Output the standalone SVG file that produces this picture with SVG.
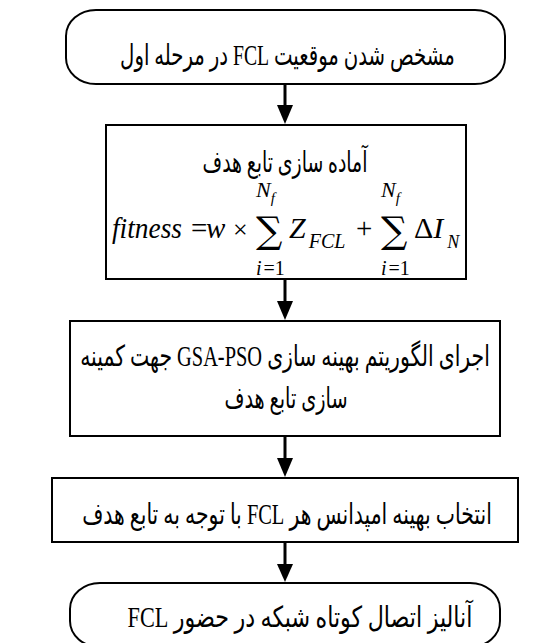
<svg xmlns="http://www.w3.org/2000/svg" width="553" height="643" viewBox="0 0 553 643">
<style>
.box{fill:#fff;stroke:#000;stroke-width:2}
.t{font-family:"Liberation Serif","DejaVu Sans",serif;font-size:29px;text-anchor:middle;fill:#000;direction:rtl}
.m{font-family:"Liberation Serif",serif;font-style:italic;fill:#000}
.u{font-family:"Liberation Serif",serif;fill:#000}
.s{font-family:"DejaVu Serif","Liberation Serif",serif;fill:#000}
.c line{stroke:#000;stroke-width:3}
.c polygon{fill:#000}
</style>
<rect width="553" height="643" fill="#fff"/>
<g class="c" id="connectors">
<line x1="285" y1="84" x2="285" y2="108"/><polygon points="277,105 293,105 285,124"/>
<line x1="285" y1="279" x2="285" y2="303"/><polygon points="277,301 293,301 285,320"/>
<line x1="285" y1="436" x2="285" y2="460"/><polygon points="277,458 293,458 285,477"/>
<line x1="285" y1="542" x2="285" y2="566"/><polygon points="277,564 293,564 285,582"/>
</g>
<g id="start">
<rect class="box" x="66" y="10" width="439" height="74" rx="30" ry="26"/>
<text class="t" transform="translate(287.5,65) scale(0.72,1)" textLength="465" lengthAdjust="spacingAndGlyphs">مشخص شدن موقعیت FCL در مرحله اول</text>
</g>
<g id="fitness">
<rect class="box" x="106" y="125" width="360" height="154"/>
<text class="t" transform="translate(285,172) scale(0.72,1)" textLength="229" lengthAdjust="spacingAndGlyphs">آماده سازی تابع هدف</text>
<text class="m" x="112" y="238" font-size="30" textLength="70" lengthAdjust="spacingAndGlyphs">fitness</text>
<text class="u" x="191" y="238" font-size="29">=</text>
<text class="m" x="206" y="238" font-size="29">w</text>
<text class="u" x="233" y="238" font-size="26">×</text>
<text class="s" x="256" y="243" font-size="37">∑</text>
<text class="m" x="256" y="197" font-size="22">N<tspan font-size="15" dy="6">f</tspan></text>
<text class="m" x="256" y="275" font-size="20">i<tspan class="u" font-style="normal" dx="2">=1</tspan></text>
<text class="m" x="289" y="238" font-size="30">Z<tspan font-size="20" dy="10" dx="3">FCL</tspan></text>
<text class="u" x="356" y="238" font-size="29">+</text>
<text class="s" x="381" y="243" font-size="37">∑</text>
<text class="m" x="381" y="197" font-size="22">N<tspan font-size="15" dy="6">f</tspan></text>
<text class="m" x="381" y="275" font-size="20">i<tspan class="u" font-style="normal" dx="2">=1</tspan></text>
<text class="u" x="414" y="238" font-size="30">Δ<tspan class="m" font-style="italic">I</tspan><tspan class="m" font-style="italic" font-size="18" dy="10" dx="4">N</tspan></text>
</g>
<g id="optimize">
<rect class="box" x="70" y="321" width="430" height="115"/>
<text class="t" transform="translate(285,366) scale(0.72,1)" textLength="569" lengthAdjust="spacingAndGlyphs">اجرای الگوریتم بهینه سازی GSA-PSO جهت کمینه</text>
<text class="t" transform="translate(286,408) scale(0.72,1)" textLength="171" lengthAdjust="spacingAndGlyphs">سازی تابع هدف</text>
</g>
<g id="select">
<rect class="box" x="52" y="478" width="466" height="64"/>
<text class="t" transform="translate(287,524) scale(0.72,1)" textLength="569" lengthAdjust="spacingAndGlyphs">انتخاب بهینه امپدانس هر FCL با توجه به تابع هدف</text>
</g>
<g id="end">
<rect class="box" x="70" y="583" width="430" height="64" rx="30" ry="26"/>
<text class="t" transform="translate(300,627) scale(0.72,1)" textLength="479" lengthAdjust="spacingAndGlyphs">آنالیز اتصال کوتاه شبکه در حضور FCL</text>
</g>
</svg>
